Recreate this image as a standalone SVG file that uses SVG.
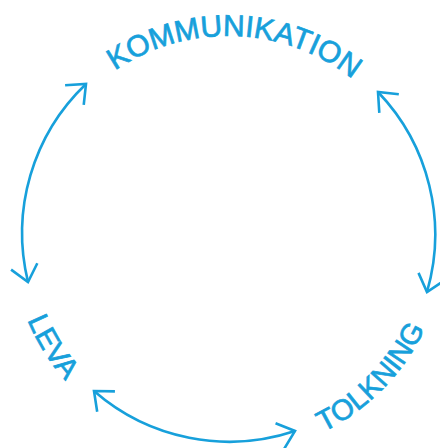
<svg xmlns="http://www.w3.org/2000/svg" width="440" height="448" viewBox="0 0 440 448">
  <style>
    .lbl { font-family: "Liberation Sans", Arial, sans-serif; fill: #17a0db; stroke: #17a0db; stroke-width: 0.7; }
    .arc { fill: none; stroke: #17a0db; stroke-width: 2.6; }
  </style>
  <defs>
    <marker id="head" markerUnits="userSpaceOnUse" markerWidth="40" markerHeight="40" refX="0" refY="0" viewBox="-20 -20 40 40" orient="auto-start-reverse" overflow="visible">
      <path d="M -16 -13.5 L 0 0 L -16 13.5" fill="none" stroke="#17a0db" stroke-width="2.6" stroke-linejoin="miter"/>
    </marker>
    <!-- baselines for the labels, all around centre (228,237) -->
    <path id="p-top" d="M 41.6 161.7 A 201 201 0 0 1 419.2 174.9"/>
    <path id="p-left" d="M 14.3 199.3 A 217 217 0 0 0 168.2 445.6"/>
    <path id="p-right" d="M 246.9 453.2 A 217 217 0 0 0 444.5 252.1"/>
  </defs>

  <g id="connectors">
    <path class="arc" d="M 28 282 A 206 206 0 0 1 86 84" marker-start="url(#head)" marker-end="url(#head)"/>
    <path class="arc" d="M 378 92 A 206 206 0 0 1 427 292" marker-start="url(#head)" marker-end="url(#head)"/>
    <path class="arc" d="M 295 431 A 206 206 0 0 1 94 391" marker-start="url(#head)" marker-end="url(#head)"/>
  </g>

  <g id="kommunikation">
    <text class="lbl" font-size="30"><textPath href="#p-top" startOffset="50%" text-anchor="middle">KOMMUNIKATION</textPath></text>
  </g>
  <g id="leva">
    <text class="lbl" font-size="29"><textPath href="#p-left" startOffset="50%" text-anchor="middle">LEVA</textPath></text>
  </g>
  <g id="tolkning">
    <text class="lbl" font-size="29"><textPath href="#p-right" startOffset="50%" text-anchor="middle">TOLKNING</textPath></text>
  </g>
</svg>
